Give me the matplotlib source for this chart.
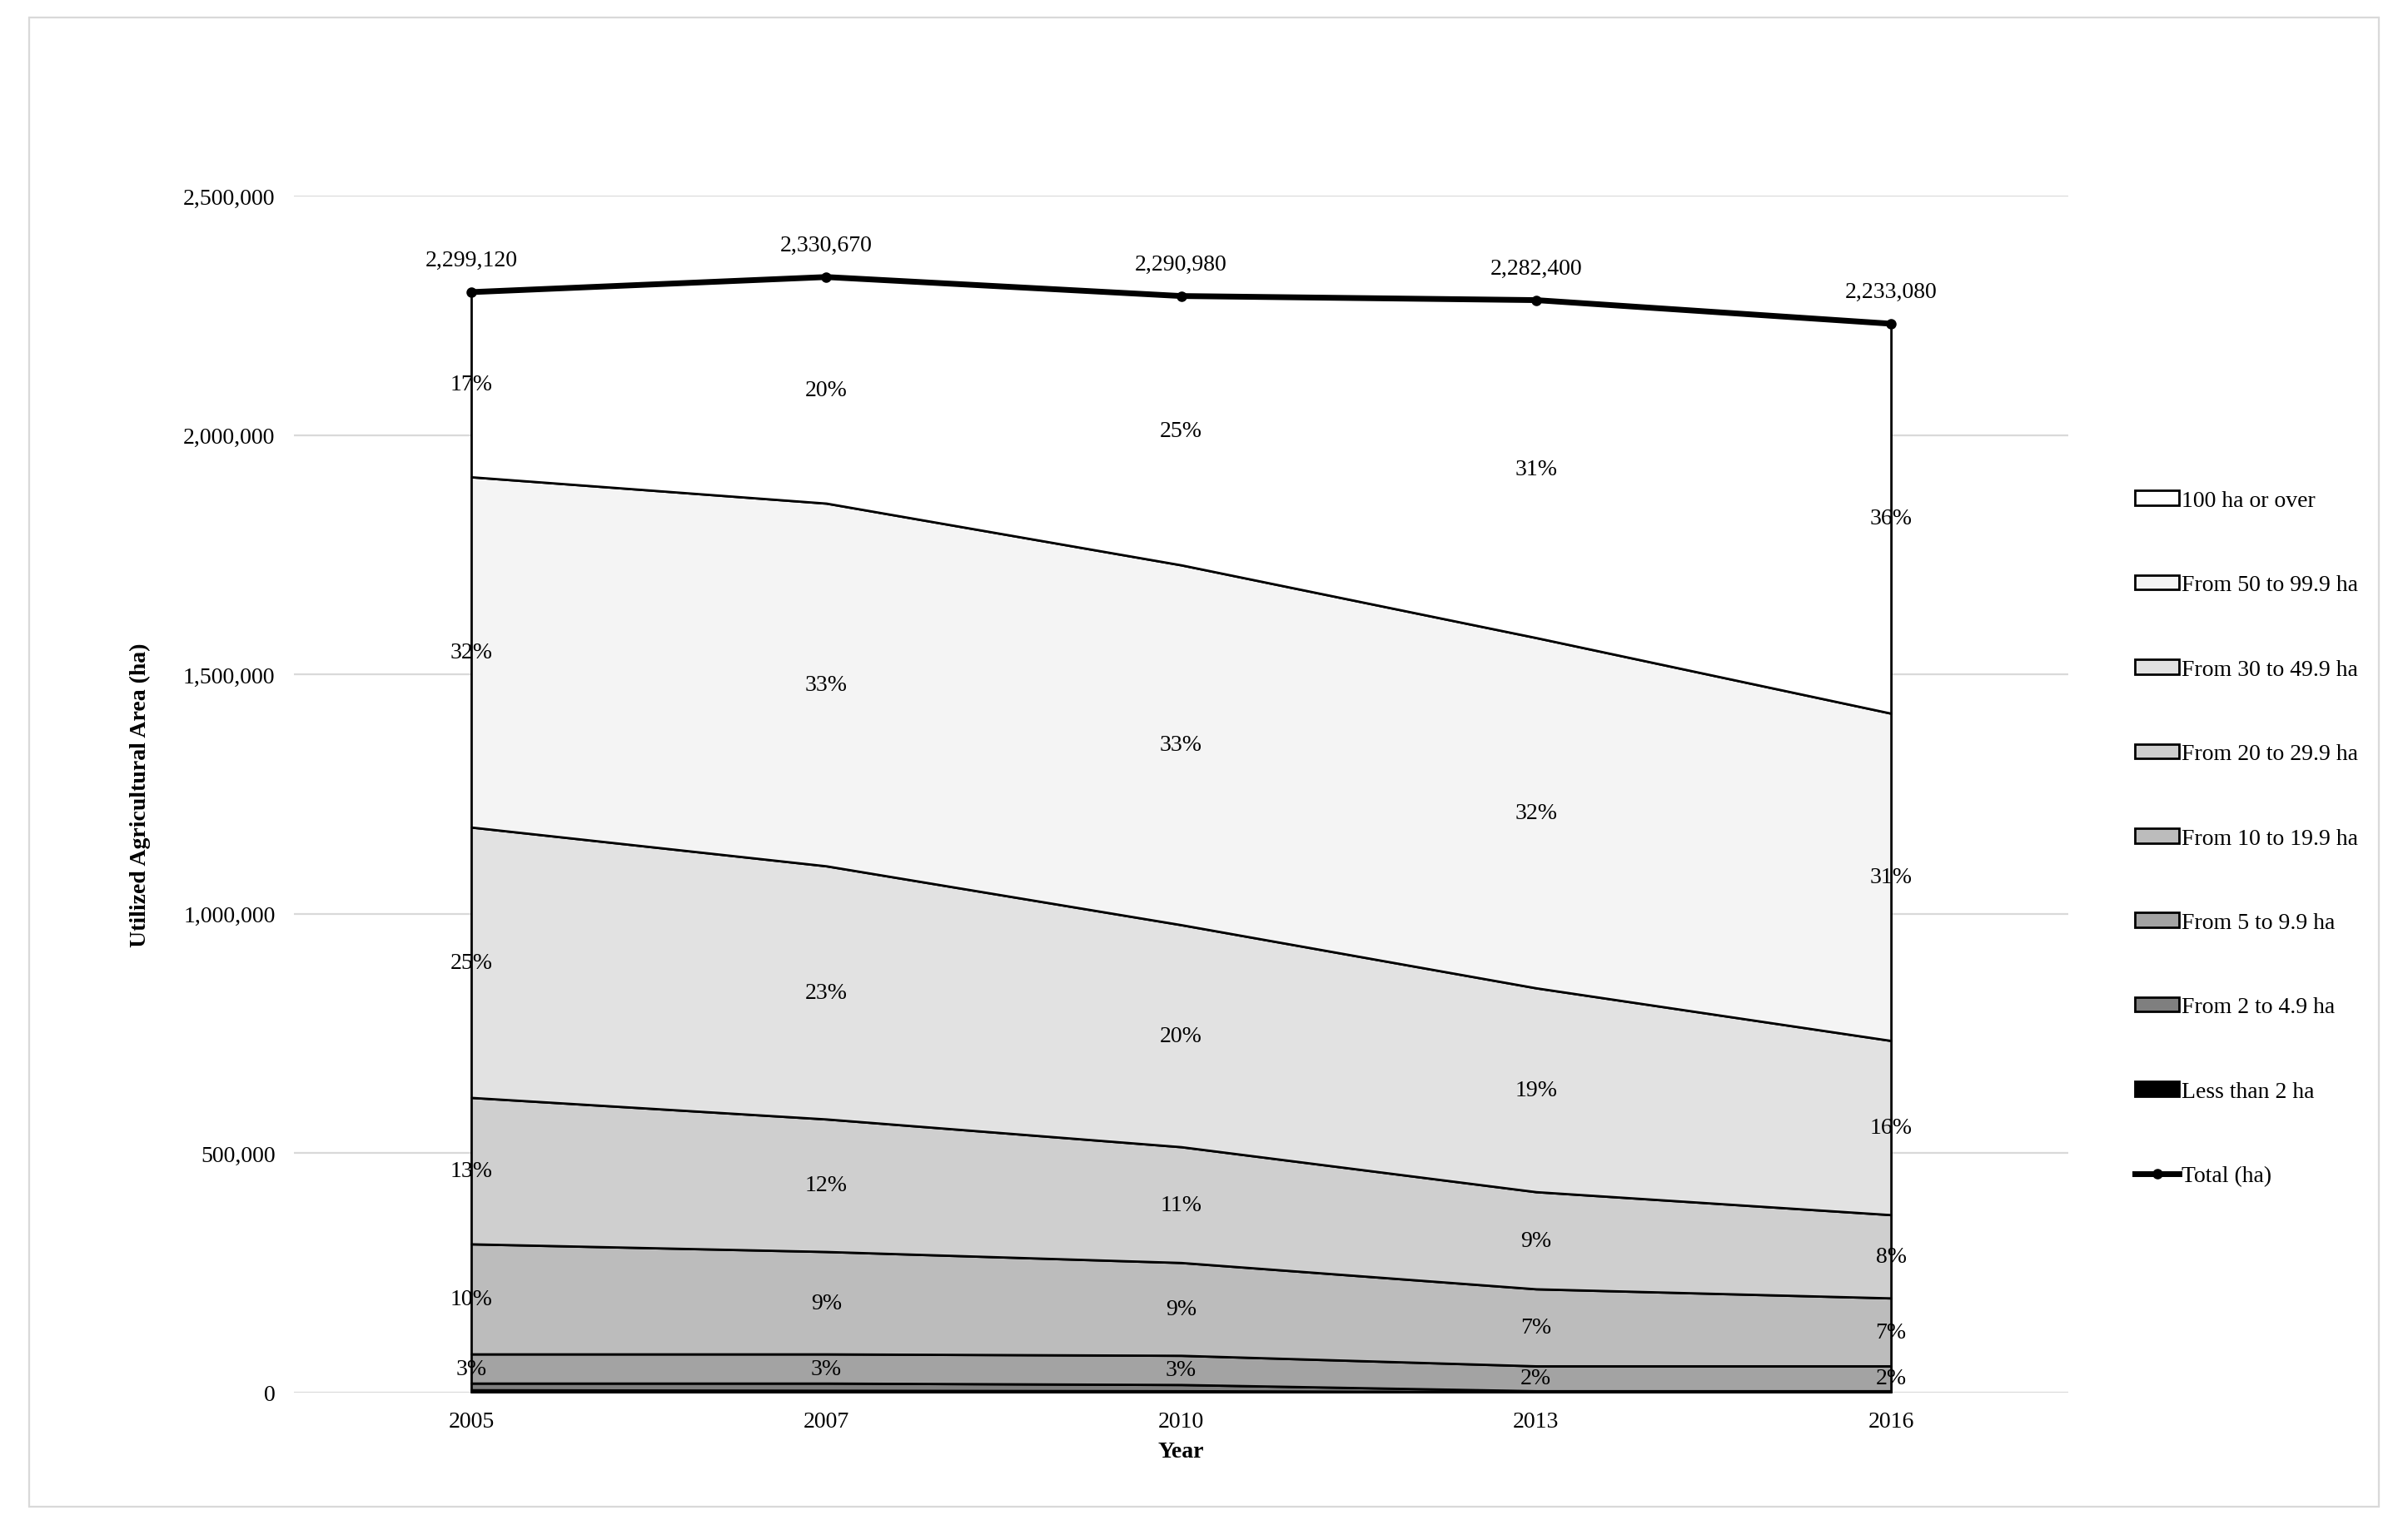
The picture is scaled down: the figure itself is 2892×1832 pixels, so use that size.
import numpy as np
import matplotlib.pyplot as plt
from matplotlib.patches import Rectangle

plt.rcParams['font.family'] = ['Liberation Serif', 'DejaVu Serif']

years = ['2005', '2007', '2010', '2013', '2016']
classes = ['Less than 2 ha', 'From 2 to 4.9 ha', 'From 5 to 9.9 ha', 'From 10 to 19.9 ha',
           'From 20 to 29.9 ha', 'From 30 to 49.9 ha', 'From 50 to 99.9 ha', '100 ha or over']
lt2 = [5000, 4000, 3000, 1000, 1000]
f2 = [14000, 15000, 13000, 2000, 2000]
f5 = [61000, 61000, 61000, 52000, 52000]
f10 = [230000, 214000, 194000, 161000, 142000]
f20 = [306000, 277000, 242000, 203000, 174000]
f30 = [565000, 529000, 464000, 426000, 364000]
f50 = [732000, 758000, 752000, 732000, 684000]
total = [2299120, 2330670, 2290980, 2282400, 2233080]
f100 = [t - s for t, s in zip(total, np.sum([lt2, f2, f5, f10, f20, f30, f50], axis=0))]
pct = {2: ['3%', '3%', '3%', '2%', '2%'],
       3: ['10%', '9%', '9%', '7%', '7%'],
       4: ['13%', '12%', '11%', '9%', '8%'],
       5: ['25%', '23%', '20%', '19%', '16%'],
       6: ['32%', '33%', '33%', '32%', '31%'],
       7: ['17%', '20%', '25%', '31%', '36%']}
colors = ['#000000', '#7f7f7f', '#a3a3a3', '#bcbcbc', '#cfcfcf', '#e2e2e2', '#f4f4f4', '#ffffff']

layers = np.array([lt2, f2, f5, f10, f20, f30, f50, f100])
x = np.arange(len(years))

fig = plt.figure(figsize=(14.46, 9.165), dpi=200)
fig.patches.append(Rectangle((0.012, 0.012), 0.976, 0.976, transform=fig.transFigure,
                             fill=False, edgecolor='#d9d9d9', lw=0.8))
ax = fig.add_axes([0.122, 0.087, 0.737, 0.784])
ax.set_axisbelow(True)
ax.grid(axis='y', color='#d9d9d9', lw=0.8)
polys = ax.stackplot(x, layers, colors=colors, edgecolor='black', lw=1.0, labels=classes)
tl, = ax.plot(x, total, color='black', lw=2.5, marker='o', ms=3.5, label='Total (ha)')

cum = np.cumsum(layers, axis=0)
for k, labs in pct.items():
    mids = cum[k] - layers[k] / 2
    for i in x:
        ax.text(i, mids[i], labs[i], ha='center', va='center', fontsize=10)
for i in x:
    ax.text(i, total[i] + 45000, f'{total[i]:,}', ha='center', va='bottom', fontsize=10)

ax.set_xlim(-0.5, 4.5)
ax.set_ylim(0, 2500000)
ax.set_yticks(np.arange(0, 2500001, 500000))
ax.yaxis.set_major_formatter(plt.FuncFormatter(lambda v, p: f'{int(v):,}'))
ax.set_xticks(x, years)
ax.tick_params(length=0, labelsize=10, pad=8)
for s in ax.spines.values():
    s.set_visible(False)
ax.set_xlabel('Year', fontsize=10, fontweight='bold')
ax.set_ylabel('Utilized Agricultural Area (ha)', fontsize=10, fontweight='bold', labelpad=14)

handles = polys[::-1] + [tl]
labels = classes[::-1] + ['Total (ha)']
fig.legend(handles, labels, loc='center left', bbox_to_anchor=(0.878, 0.45), frameon=False,
           fontsize=10, labelspacing=2.75, handlelength=1.9, handleheight=0.6, handletextpad=0.1)

fig.savefig('out.png', dpi=200)
